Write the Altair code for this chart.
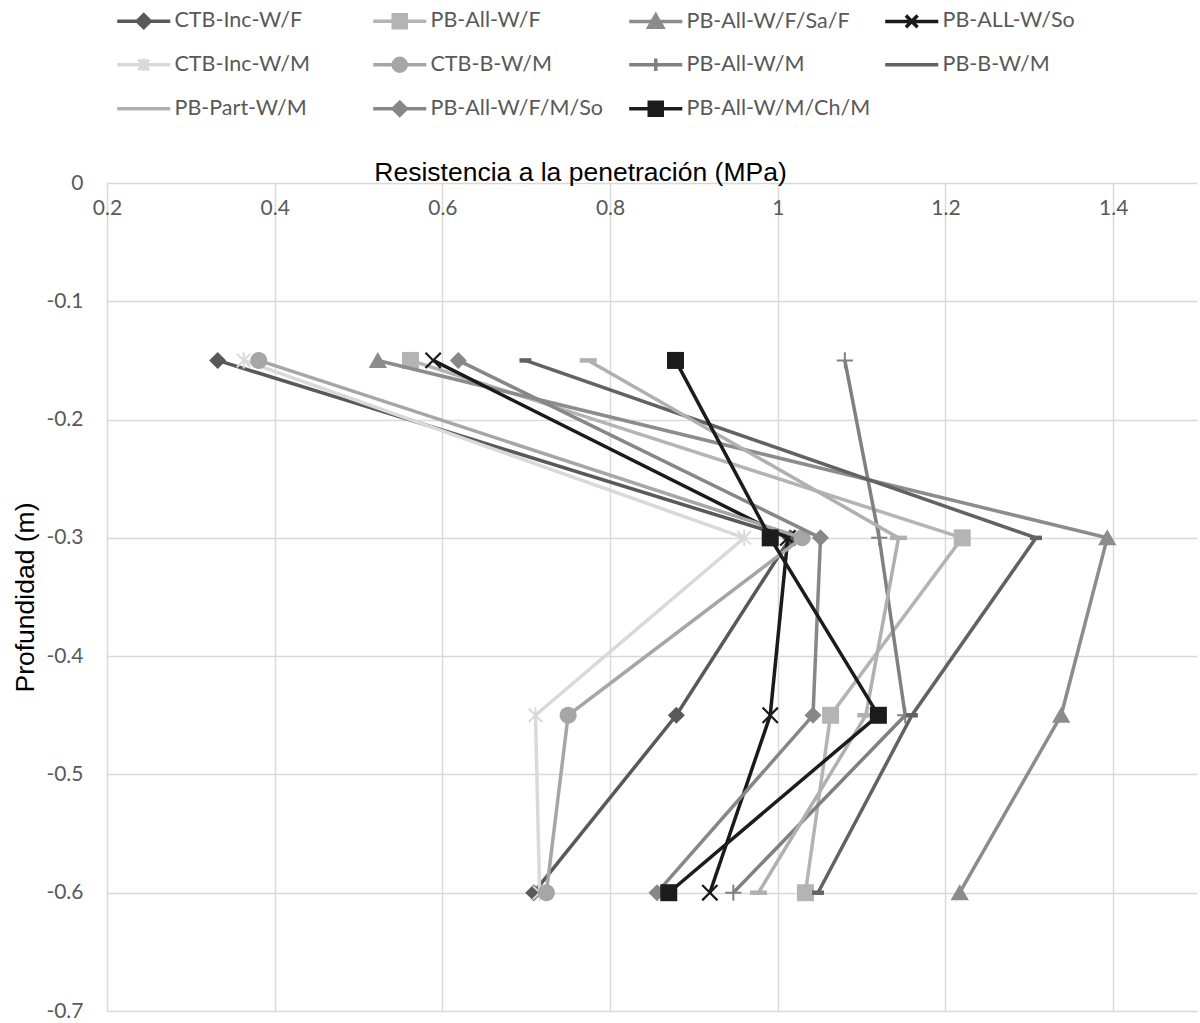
import altair as alt
import pandas as pd

# ---------------- data ----------------
depths = [-0.15, -0.30, -0.45, -0.60]

series_names = [
    "CTB-Inc-W/F", "PB-All-W/F", "PB-All-W/F/Sa/F", "PB-ALL-W/So",
    "CTB-Inc-W/M", "CTB-B-W/M", "PB-All-W/M", "PB-B-W/M",
    "PB-Part-W/M", "PB-All-W/F/M/So", "PB-All-W/M/Ch/M",
]

ctb_inc_w_f = [0.332, 1.015, 0.879, 0.709]
pb_all_w_f = [0.562, 1.220, 1.063, 1.033]
pb_all_w_f_sa_f = [0.523, 1.393, 1.338, 1.217]
pb_all_w_so = [0.589, 1.012, 0.991, 0.919]
ctb_inc_w_m = [0.363, 0.960, 0.711, 0.716]
ctb_b_w_m = [0.381, 1.029, 0.750, 0.724]
pb_all_w_m = [1.080, 1.121, 1.152, 0.947]
pb_b_w_m = [0.699, 1.308, 1.160, 1.048]
pb_part_w_m = [0.774, 1.144, 1.105, 0.977]
pb_all_w_f_m_so = [0.619, 1.051, 1.042, 0.856]
pb_all_w_m_ch_m = [0.878, 0.991, 1.120, 0.870]

series_values = [
    ctb_inc_w_f, pb_all_w_f, pb_all_w_f_sa_f, pb_all_w_so,
    ctb_inc_w_m, ctb_b_w_m, pb_all_w_m, pb_b_w_m,
    pb_part_w_m, pb_all_w_f_m_so, pb_all_w_m_ch_m,
]

x_ticks = [0.2, 0.4, 0.6, 0.8, 1.0, 1.2, 1.4]
y_ticks = [0, -0.1, -0.2, -0.3, -0.4, -0.5, -0.6, -0.7]

rows = []
for name, vals in zip(series_names, series_values):
    for d, v in zip(depths, vals):
        rows.append({"serie": name, "profundidad": d, "resistencia": v})
df = pd.DataFrame(rows)

# ---------------- styles ----------------
series_colors = [
    "#595959", "#b4b4b4", "#8c8c8c", "#1a1a1a",
    "#d9d9d9", "#a6a6a6", "#808080", "#626262",
    "#b0b0b0", "#878787", "#1c1c1c",
]

DIAMOND = "M0,-1L1,0L0,1L-1,0Z"
SQUARE = "M-1,-1L1,-1L1,1L-1,1Z"
TRIANGLE = "M0,-1L1.08,0.88L-1.08,0.88Z"
CIRCLE = "M-1,0A1,1 0 1,0 1,0A1,1 0 1,0 -1,0Z"
XMARK = "M-0.9,-0.9L0.9,0.9M-0.9,0.9L0.9,-0.9"
PLUS = "M-0.95,0L0.95,0M0,-0.95L0,0.95"
STAR = "M-0.8,-0.8L0.8,0.8M-0.8,0.8L0.8,-0.8M0,-0.95L0,0.95"
DASH_LONG = "M-1,0L1,0"
DASH_SHORT = "M-0.7,0L0.7,0"

# (shape, filled, stroke width of marker)
marker_style = [
    (DIAMOND, True, 0), (SQUARE, True, 0), (TRIANGLE, True, 0), (XMARK, False, 2.2),
    (STAR, False, 2.0), (CIRCLE, True, 0), (PLUS, False, 2.0), (DASH_SHORT, False, 4.5),
    (DASH_LONG, False, 4.5), (DIAMOND, True, 0), (SQUARE, True, 0),
]
legend_marker = [DIAMOND, SQUARE, TRIANGLE, XMARK, STAR, CIRCLE, PLUS, "", "", DIAMOND, SQUARE]
LEG_LINE = "M-4.08,0L4.08,0"
legend_paths = [LEG_LINE + m for m in legend_marker]

MARKER_SIZE = 289
LINE_W = 3.5

x_enc = alt.X(
    "resistencia:Q",
    scale=alt.Scale(domain=[0.2, 1.5], nice=False, zero=False),
    axis=alt.Axis(
        orient="top", values=x_ticks, format=".1~f",
        title="Resistencia a la penetración (MPa)",
        titleFont="Liberation Sans", titleFontSize=26.5, titleFontWeight="normal",
        titleColor="#000000", titleX=473, titleY=-3, titleAlign="center",
        titleBaseline="alphabetic",
        labelFont="Lato", labelFontSize=21, labelColor="#595959",
        labelPadding=-25, labelBaseline="middle", labelFlush=False, labelOverlap=False,
        ticks=False, domain=False, grid=True, gridColor="#d9d9d9", gridWidth=1.5,
    ),
)
y_enc = alt.Y(
    "profundidad:Q",
    scale=alt.Scale(domain=[-0.7, 0], nice=False, zero=False),
    axis=alt.Axis(
        values=y_ticks,
        labelExpr="datum.value == 0 ? '0' : toString(round(datum.value * 10) / 10)",
        title="Profundidad (m)",
        titleFont="Liberation Sans", titleFontSize=26.5, titleFontWeight="normal",
        titleColor="#000000", titleAngle=270, titleX=-74, titleBaseline="alphabetic",
        labelFont="Lato", labelFontSize=21, labelColor="#595959",
        labelPadding=24, labelFlush=False, labelOverlap=False,
        ticks=False, domain=False, grid=True, gridColor="#d9d9d9", gridWidth=1.5,
    ),
)

layers = []
for i, name in enumerate(series_names):
    color = series_colors[i]
    shape, filled, sw = marker_style[i]
    line = alt.Chart().mark_line(color=color, strokeWidth=LINE_W).encode(
        x=x_enc, y=y_enc, order=alt.Order("profundidad:Q", sort="descending")
    ).transform_filter(alt.datum.serie == name)
    if filled:
        pts = alt.Chart().mark_point(
            shape=shape, filled=True, fill=color, strokeWidth=0,
            size=MARKER_SIZE, opacity=1,
        )
    else:
        pts = alt.Chart().mark_point(
            shape=shape, filled=False, stroke=color, strokeWidth=sw,
            size=MARKER_SIZE, opacity=1,
        )
    pts = pts.encode(x=x_enc, y=y_enc).transform_filter(alt.datum.serie == name)
    layers += [line, pts]

legend_layer = alt.Chart().mark_point(opacity=1, strokeWidth=LINE_W, size=169).encode(
    shape=alt.Shape("serie:N", scale=alt.Scale(domain=series_names, range=legend_paths),
                    legend=alt.Legend(title=None)),
    fill=alt.Fill("serie:N", scale=alt.Scale(domain=series_names, range=series_colors),
                  legend=alt.Legend(title=None)),
    stroke=alt.Stroke("serie:N", scale=alt.Scale(domain=series_names, range=series_colors),
                      legend=alt.Legend(title=None)),
).transform_filter("false")
layers.append(legend_layer)

chart = alt.layer(*layers, data=df).properties(
    width=1090, height=828,
    autosize=alt.AutoSizeParams(type="none"),
    padding={"left": 107, "top": 183, "right": 3, "bottom": 12},
    background="white",
).configure_view(stroke=None).configure_legend(
    orient="none", legendX=6, legendY=-173, columns=4, direction="horizontal",
    gridAlign="all", columnPadding=7, rowPadding=16,
    symbolSize=169, symbolStrokeWidth=LINE_W, symbolOffset=20, labelOffset=20,
    labelFont="Lato", labelFontSize=21.5, labelColor="#595959", labelLimit=400,
    padding=0,
)

chart.save("out.html", embed_options={"renderer": "svg", "actions": False})
